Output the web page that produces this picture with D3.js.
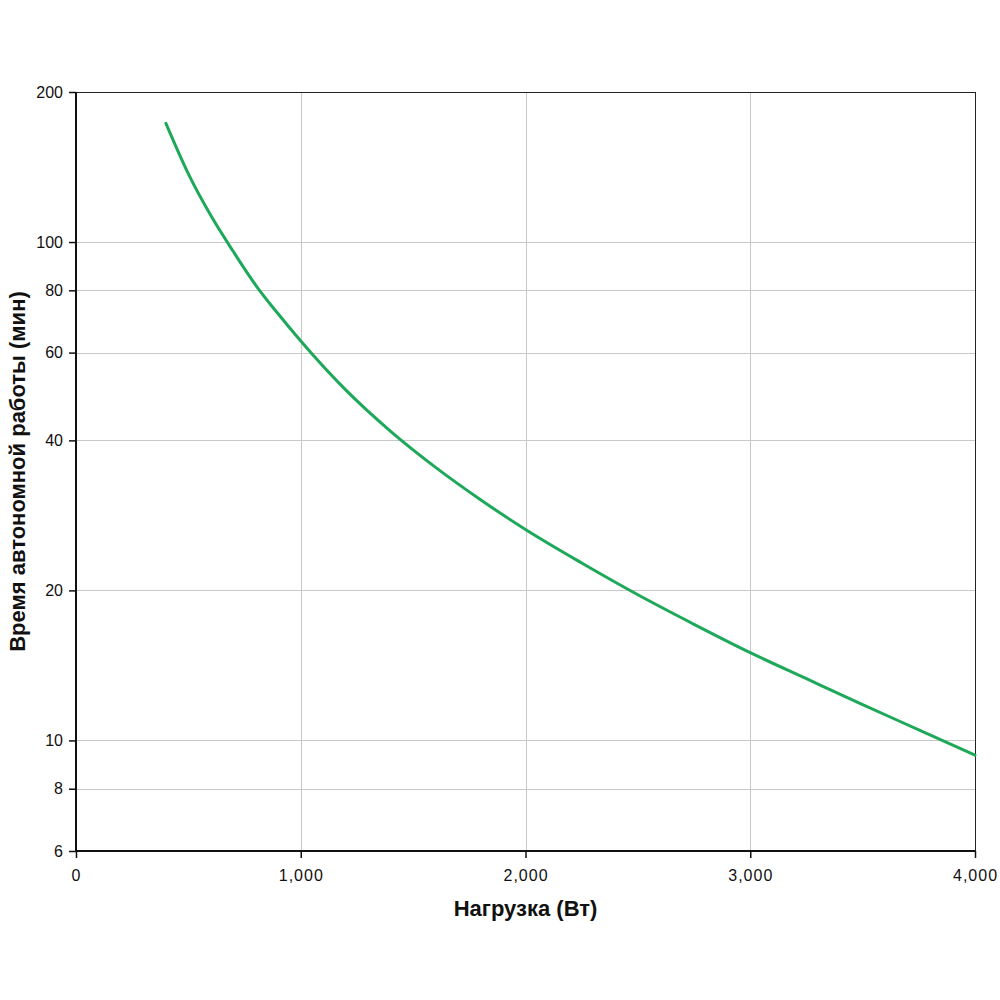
<!DOCTYPE html>
<html>
<head>
<meta charset="utf-8">
<script src="https://cdn.jsdelivr.net/npm/d3@7"></script>
<style>
body{margin:0;background:#fff;}
svg{display:block;}
</style>
</head>
<body>
<svg id="chart" width="1000" height="1000"></svg>
<script>
const loadW = [400, 500, 600, 700, 800, 900, 1000, 1200, 1400, 1600, 1800, 2000, 2250, 2500, 2750, 3000, 3250, 3500, 3750, 4000];
const runtimeMin = [173, 137, 113, 95.7, 81.9, 71.7, 63.3, 50.5, 41.7, 35.3, 30.4, 26.5, 22.7, 19.6, 17.1, 15.0, 13.3, 11.8, 10.5, 9.34];
const xTicks = [0, 1000, 2000, 3000, 4000];
const yTicks = [6, 8, 10, 20, 40, 60, 80, 100, 200];
const xTitle = "Нагрузка (Вт)";
const yTitle = "Время автономной работы (мин)";

const svg = d3.select("#chart");
const L = 76, R = 975, T = 92, B = 851;
const x = d3.scaleLinear().domain([0, 4000]).range([L, R]);
const y = d3.scaleLog().domain([6, 200]).range([B, T]);
const font = "'Liberation Sans', Arial, sans-serif";

// gridlines
svg.append("g").selectAll("line").data(xTicks.filter(d => d > 0 && d < 4000)).join("line")
  .attr("x1", d => Math.round(x(d)) + 0.5).attr("x2", d => Math.round(x(d)) + 0.5)
  .attr("y1", T).attr("y2", B).attr("stroke", "#c8c8c8").attr("stroke-width", 1);
svg.append("g").selectAll("line").data(yTicks.filter(d => d > 6 && d < 200)).join("line")
  .attr("x1", L).attr("x2", R)
  .attr("y1", d => Math.round(y(d)) + 0.5).attr("y2", d => Math.round(y(d)) + 0.5)
  .attr("stroke", "#c8c8c8").attr("stroke-width", 1);

// frame top/right
svg.append("line").attr("x1", L).attr("x2", R + 0.5).attr("y1", T + 0.5).attr("y2", T + 0.5).attr("stroke", "#222").attr("stroke-width", 1);
svg.append("line").attr("x1", R + 0.5).attr("x2", R + 0.5).attr("y1", T).attr("y2", B).attr("stroke", "#222").attr("stroke-width", 1);

// axes
const xAxis = d3.axisBottom(x).tickValues(xTicks).tickFormat(d3.format(",")).tickSize(7).tickPadding(12);
const yAxis = d3.axisLeft(y).tickValues(yTicks).tickFormat(d3.format("d")).tickSize(7).tickPadding(6);
const gx = svg.append("g").attr("transform", `translate(0,${B})`).call(xAxis);
const gy = svg.append("g").attr("transform", `translate(${L},0)`).call(yAxis);
[gx, gy].forEach(g => {
  g.select(".domain").attr("stroke", "#111").attr("stroke-width", 2);
  g.selectAll(".tick line").attr("stroke", "#111").attr("stroke-width", 1.5);
  g.selectAll(".tick text").attr("fill", "#111").style("font-family", font).style("font-size", "16px");
});
gx.selectAll(".tick text").style("letter-spacing", "1px");
gx.select(".domain").attr("d", `M${L},0H${R}`);
gy.select(".domain").attr("d", `M0,${B}V${T}`);

// line
const line = d3.line().x((d, i) => x(loadW[i])).y(d => y(d)).curve(d3.curveMonotoneX);
svg.append("path").datum(runtimeMin).attr("d", line)
  .attr("fill", "none").attr("stroke", "#1ea85a").attr("stroke-width", 3).attr("stroke-linecap", "round");

// titles
svg.append("text").attr("x", (L + R) / 2).attr("y", 916).attr("text-anchor", "middle")
  .style("font-family", font).style("font-size", "22px").style("font-weight", "bold").attr("fill", "#111").text(xTitle);
svg.append("text").attr("transform", `translate(25,${(T + B) / 2}) rotate(-90)`).attr("text-anchor", "middle")
  .style("font-family", font).style("font-size", "22px").style("font-weight", "bold").attr("fill", "#111").text(yTitle);
</script>
</body>
</html>
